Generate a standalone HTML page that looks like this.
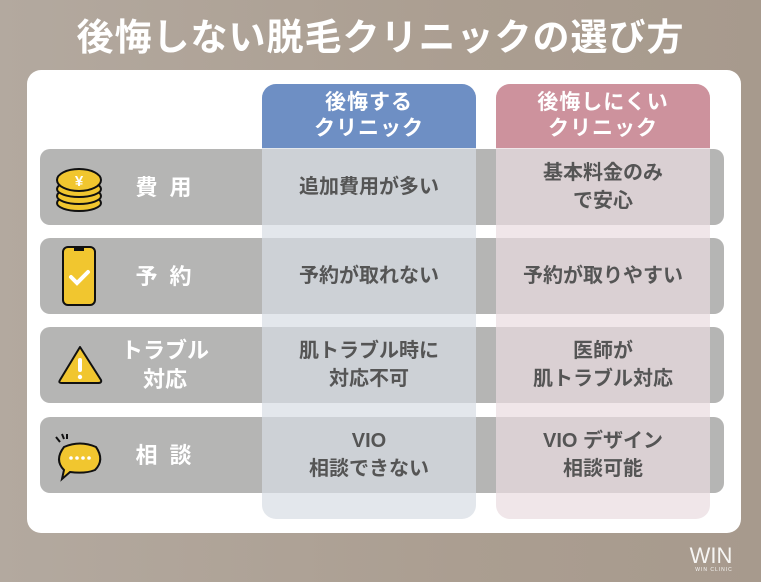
<!DOCTYPE html>
<html><head><meta charset="utf-8"><style>
*{margin:0;padding:0;box-sizing:border-box}
body{width:761px;height:582px;overflow:hidden;position:relative;background:linear-gradient(90deg,#b3a99f,#ab9e91 60%,#a79a8d);font-family:"Liberation Sans","Noto Sans CJK JP",sans-serif}
.a{position:absolute}
.t{position:absolute;display:flex;align-items:center;justify-content:center;text-align:center;font-weight:bold}
.row{background:#b5b5b4;border-radius:10px;left:40px;width:684px;height:76px}
.lab{color:#fff;font-size:22px;left:110px;width:110px;letter-spacing:3px;line-height:29px}
.cell{color:#555;font-size:20px;line-height:28px}
</style></head><body>
<div class="t" style="left:0;top:8px;width:761px;height:52px;color:#fff;font-size:37px;letter-spacing:1px">後悔しない脱毛クリニックの選び方</div>
<div class="a" style="left:27px;top:70px;width:714px;height:463px;background:#fff;border-radius:14px"></div>
<div class="a row" style="top:149px"></div>
<div class="a row" style="top:238px"></div>
<div class="a row" style="top:327px"></div>
<div class="a row" style="top:417px"></div>
<div class="a" style="left:262px;top:84px;width:214px;height:435px;border-radius:14px;background:rgba(215,221,228,.7);overflow:hidden"><div style="height:64px;background:#6e8fc4"></div></div>
<div class="a" style="left:496px;top:84px;width:214px;height:435px;border-radius:14px;background:rgba(234,220,223,.7);overflow:hidden"><div style="height:64px;background:#cd929d"></div></div>
<div class="t" style="left:262px;top:84px;width:214px;height:64px;color:#fff;font-size:21px;line-height:26px;letter-spacing:1px">後悔する<br>クリニック</div>
<div class="t" style="left:496px;top:84px;width:214px;height:64px;color:#fff;font-size:21px;line-height:26px;letter-spacing:1px">後悔しにくい<br>クリニック</div>

<div class="t lab" style="top:149px;height:76px">費 用</div>
<div class="t lab" style="top:238px;height:76px">予 約</div>
<div class="t lab" style="top:327px;height:76px;letter-spacing:0">トラブル<br>対応</div>
<div class="t lab" style="top:417px;height:76px">相 談</div>

<div class="t cell" style="left:262px;width:214px;top:149px;height:76px">追加費用が多い</div>
<div class="t cell" style="left:496px;width:214px;top:149px;height:76px">基本料金のみ<br>で安心</div>
<div class="t cell" style="left:262px;width:214px;top:238px;height:76px">予約が取れない</div>
<div class="t cell" style="left:496px;width:214px;top:238px;height:76px">予約が取りやすい</div>
<div class="t cell" style="left:262px;width:214px;top:327px;height:76px">肌トラブル時に<br>対応不可</div>
<div class="t cell" style="left:496px;width:214px;top:327px;height:76px">医師が<br>肌トラブル対応</div>
<div class="t cell" style="left:262px;width:214px;top:417px;height:76px">VIO<br>相談できない</div>
<div class="t cell" style="left:496px;width:214px;top:417px;height:76px">VIO デザイン<br>相談可能</div>

<svg class="a" style="left:0;top:0" width="761" height="582">
<g stroke="#111" stroke-width="2" fill="#f1c62f">
<ellipse cx="79" cy="203" rx="22" ry="8"/><ellipse cx="79" cy="196" rx="22" ry="8"/><ellipse cx="79" cy="189" rx="22" ry="8"/><ellipse cx="79" cy="180" rx="22" ry="11"/>
<rect x="63" y="247" width="32" height="58" rx="5"/>
<path d="M80 347 L101 380 Q102 383 98 383 L62 383 Q58 383 60 380 Z" stroke-linejoin="round"/>
<path d="M64 470 Q54 460 64 447 Q80 440 96 447 Q105 460 95 470 Q85 474 70 472 L62 479 Z"/>
</g>
<text x="79" y="186" font-size="15" font-weight="bold" fill="#fff" text-anchor="middle" font-family="Liberation Sans,sans-serif">¥</text>
<rect x="74" y="247" width="10" height="4" fill="#111"/>
<path d="M71 277 l6 6 l11 -11" stroke="#fff" stroke-width="4" fill="none" stroke-linecap="round"/>
<rect x="78" y="358" width="4" height="14" rx="2" fill="#fff"/><circle cx="80" cy="377" r="2.2" fill="#fff"/>
<g fill="#fff"><circle cx="71" cy="458" r="1.8"/><circle cx="77" cy="458" r="1.8"/><circle cx="83" cy="458" r="1.8"/><circle cx="89" cy="458" r="1.8"/></g>
<path d="M56 437 l4 5 M62 434 l2 5 M67 434 l0 5" stroke="#111" stroke-width="2"/>
<text x="711" y="563" font-size="22" fill="#fff" text-anchor="middle" font-family="Liberation Sans,sans-serif" font-weight="300" opacity=".9">WIN</text>
<text x="714" y="571" font-size="5" fill="#fff" text-anchor="middle" font-family="Liberation Sans,sans-serif" letter-spacing="1" opacity=".9">WIN CLINIC</text>
</svg>
</body></html>
